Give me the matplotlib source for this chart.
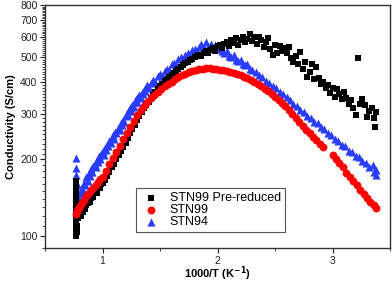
import matplotlib
matplotlib.use("Agg")
import matplotlib.pyplot as plt
from matplotlib.ticker import FixedLocator, FixedFormatter, MultipleLocator, NullFormatter

plt.rcParams['font.family'] = ['Liberation Sans', 'DejaVu Sans']

# STN99 Pre-reduced (black squares)
black_x = [0.77] * 17 + [0.78] * 5 + [
    0.79, 0.80, 0.81, 0.82, 0.83, 0.84, 0.85, 0.86, 0.87, 0.88, 0.89, 0.90,
    0.91, 0.92, 0.93, 0.94, 0.95, 0.96, 0.97, 0.98, 0.99, 1.00, 1.02, 1.04,
    1.06, 1.08, 1.10, 1.12, 1.14, 1.16, 1.18, 1.20, 1.22, 1.24, 1.26, 1.28,
    1.30, 1.32, 1.34, 1.36, 1.38, 1.40, 1.42, 1.44, 1.46, 1.48, 1.50, 1.52,
    1.54, 1.56, 1.58, 1.60, 1.62, 1.64, 1.66, 1.68, 1.70, 1.72, 1.74, 1.76,
    1.78, 1.80, 1.82, 1.84, 1.86, 1.88, 1.90, 1.92, 1.94, 1.96, 1.98, 2.00,
    2.02, 2.04, 2.06, 2.08, 2.10, 2.12, 2.14, 2.16, 2.18, 2.20, 2.22, 2.24,
    2.26, 2.28, 2.30, 2.32, 2.34, 2.36, 2.38, 2.40, 2.42, 2.44, 2.46, 2.48,
    2.50, 2.52, 2.54, 2.56, 2.58, 2.60, 2.62, 2.64, 2.66, 2.68, 2.70, 2.72,
    2.74, 2.76, 2.78, 2.80, 2.82, 2.84, 2.86, 2.88, 2.90, 2.92, 2.94, 2.96,
    2.98, 3.00, 3.02, 3.04, 3.06, 3.08, 3.10, 3.12, 3.14, 3.16, 3.18, 3.20,
    3.22, 3.24, 3.26, 3.28, 3.30, 3.32, 3.34, 3.36, 3.37, 3.38]
black_y = [100, 102, 104, 107, 110, 113, 116, 119, 122, 126, 130, 135, 140,
           146, 152, 158, 165] + [104, 110, 118, 126, 134] + [
    118, 122, 120, 126, 124, 130, 128, 133, 135, 138, 136, 141,
    144, 142, 147, 150, 148, 154, 156, 155, 160, 162, 166, 172,
    178, 186, 192, 200, 207, 215, 224, 232, 242, 252, 262, 272,
    284, 294, 305, 316, 326, 336, 346, 356, 366, 375, 385, 394,
    404, 412, 420, 428, 436, 444, 452, 460, 467, 474, 480, 487,
    492, 500, 505, 512, 508, 520, 528, 518, 536, 545, 530, 552,
    560, 545, 566, 575, 555, 582, 570, 596, 560, 585, 600, 572,
    590, 615, 580, 598, 562, 600, 585, 548, 576, 595, 540, 510,
    558, 520, 552, 528, 545, 520, 548, 495, 478, 505, 470, 525,
    452, 480, 418, 440, 470, 410, 460, 415, 395, 400, 380, 390,
    362, 380, 350, 375, 360, 345, 365, 348, 330, 340, 318, 298,
    495, 330, 345, 325, 292, 308, 316, 290, 266, 305]

# STN99 (red circles)
red_x = [0.77, 0.78, 0.79, 0.80, 0.82, 0.84, 0.86, 0.88, 0.90, 0.92, 0.94,
         0.96, 0.98, 1.00, 1.03, 1.06, 1.09, 1.12, 1.15, 1.18, 1.21, 1.24,
         1.27, 1.30, 1.33, 1.36, 1.39, 1.42, 1.45, 1.48, 1.51, 1.54, 1.57,
         1.60, 1.63, 1.66, 1.69, 1.72, 1.75, 1.78, 1.81, 1.84, 1.87, 1.90,
         1.93, 1.96, 1.99, 2.02, 2.05, 2.08, 2.11, 2.14, 2.17, 2.20, 2.23,
         2.26, 2.29, 2.32, 2.35, 2.38, 2.41, 2.44, 2.47, 2.50, 2.53, 2.56,
         2.59, 2.62, 2.65, 2.68, 2.71, 2.74, 2.77, 2.80, 2.83, 2.86, 2.89,
         2.92, 3.00, 3.03, 3.06, 3.09, 3.12, 3.15, 3.18, 3.21, 3.24, 3.27,
         3.30, 3.33, 3.36, 3.38]
red_y = [122, 125, 128, 131, 135, 139, 143, 147, 151, 155, 159,
         163, 167, 171, 180, 191, 203, 214, 226, 240, 254, 267,
         282, 297, 312, 324, 335, 346, 356, 366, 376, 385, 394,
         402, 410, 418, 425, 431, 437, 442, 447, 450, 452, 453,
         453, 452, 450, 448, 445, 443, 440, 436, 431, 426, 420,
         414, 407, 400, 393, 385, 377, 368, 359, 349, 340, 331,
         322, 311, 301, 290, 280, 270, 261, 252, 244, 237, 230,
         223, 208, 200, 193, 186, 177, 171, 164, 158, 152, 146,
         141, 136, 132, 129]

# STN94 (blue triangles)
blue_x = [0.77] * 8 + [0.78] * 3 + [
    0.79, 0.80, 0.81, 0.82, 0.83, 0.84, 0.85, 0.86, 0.87, 0.88, 0.89, 0.90,
    0.91, 0.92, 0.93, 0.94, 0.95, 0.96, 0.97, 0.98, 0.99, 1.00, 1.01, 1.02,
    1.03, 1.04, 1.05, 1.06, 1.07, 1.08, 1.09, 1.10, 1.11, 1.12, 1.13, 1.14,
    1.15, 1.16, 1.17, 1.18, 1.19, 1.20, 1.21, 1.22, 1.23, 1.24, 1.25, 1.26,
    1.27, 1.28, 1.29, 1.30, 1.31, 1.32, 1.33, 1.34, 1.35, 1.36, 1.37, 1.38,
    1.39, 1.40, 1.42, 1.44, 1.46, 1.48, 1.50, 1.52, 1.54, 1.56, 1.58, 1.60,
    1.62, 1.64, 1.66, 1.68, 1.70, 1.72, 1.74, 1.76, 1.78, 1.80, 1.82, 1.84,
    1.86, 1.88, 1.90, 1.92, 1.94, 1.96, 1.98, 2.00, 2.02, 2.04, 2.06, 2.08,
    2.10, 2.12, 2.14, 2.16, 2.18, 2.20, 2.22, 2.24, 2.26, 2.28, 2.30, 2.33,
    2.36, 2.39, 2.42, 2.45, 2.48, 2.51, 2.54, 2.57, 2.60, 2.63, 2.66, 2.69,
    2.72, 2.75, 2.78, 2.81, 2.84, 2.87, 2.90, 2.93, 2.96, 2.99, 3.02, 3.05,
    3.08, 3.11, 3.14, 3.17, 3.20, 3.23, 3.26, 3.29, 3.32, 3.35, 3.36, 3.38,
    3.38]
blue_y = [128, 135, 142, 150, 158, 173, 184, 202] + [132, 145, 160] + [
    140, 148, 138, 155, 150, 162, 158, 170, 164, 176, 172, 183,
    178, 188, 192, 186, 198, 195, 205, 200, 210, 215, 208, 222,
    218, 228, 225, 236, 232, 242, 248, 240, 255, 252, 262, 268,
    260, 276, 272, 285, 280, 295, 303, 298, 312, 318, 308, 325,
    321, 336, 344, 334, 349, 356, 346, 364, 360, 374, 369, 382,
    389, 379, 398, 408, 401, 422, 430, 422, 444, 452, 447, 470,
    477, 468, 492, 500, 490, 512, 522, 507, 532, 540, 527, 550,
    562, 542, 572, 550, 565, 545, 558, 538, 548, 528, 520, 530,
    508, 500, 510, 490, 482, 488, 470, 466, 472, 452, 448, 438,
    425, 418, 405, 398, 385, 380, 366, 360, 350, 342, 330, 324,
    312, 306, 296, 290, 280, 276, 268, 262, 252, 248, 240, 236,
    228, 225, 216, 214, 206, 204, 196, 194, 186, 190, 178, 182,
    174]

fig = plt.figure(figsize=(3.92, 2.84), dpi=100)
ax = fig.add_axes([0.115, 0.127, 0.88, 0.855])

ax.scatter(blue_x, blue_y, marker="^", s=34, color="#2a3cff", linewidths=0,
           label="STN94", zorder=1)
ax.scatter(black_x, black_y, marker="s", s=22, color="black", linewidths=0,
           label="STN99 Pre-reduced", zorder=2)
ax.scatter(red_x, red_y, marker="o", s=32, color="#ff0000", linewidths=0,
           label="STN99", zorder=3)

ax.set_yscale("log")
ax.set_xlim(0.5, 3.5)
ax.set_ylim(90, 800)
ax.yaxis.set_major_locator(FixedLocator([100, 200, 300, 400, 500, 600, 700, 800]))
ax.yaxis.set_minor_locator(FixedLocator(list(range(90, 801, 10))))
ax.yaxis.set_major_formatter(FixedFormatter(
    ["100", "200", "300", "400", "500", "600", "700", "800"]))
ax.yaxis.set_minor_formatter(NullFormatter())
ax.xaxis.set_major_locator(FixedLocator([1, 2, 3]))
ax.xaxis.set_minor_locator(MultipleLocator(0.5))

ax.tick_params(which="major", labelsize=7.5, length=3.5, width=0.8,
               direction="out", pad=2, colors="#222222")
ax.tick_params(which="minor", length=2, width=0.6, direction="out",
               colors="#222222")
for sp in ax.spines.values():
    sp.set_linewidth(1.0)
    sp.set_color("#333333")

ax.set_xlabel("1000/T (K$^{\\mathbf{-1}}$)", fontsize=8, fontweight="bold")
ax.xaxis.set_label_coords(0.5, -0.068)
ax.set_ylabel("Conductivity (S/cm)", fontsize=8, fontweight="bold",
              labelpad=3)

handles, labels = ax.get_legend_handles_labels()
order = [1, 2, 0]
leg = ax.legend([handles[i] for i in order], [labels[i] for i in order],
                loc="lower left", bbox_to_anchor=(0.264, 0.066),
                borderaxespad=0, fontsize=9, frameon=True, fancybox=False,
                edgecolor="#555555", framealpha=1, handletextpad=0.6,
                labelspacing=0.0, borderpad=0.3, handlelength=1.8,
                scatterpoints=1)
leg.get_frame().set_linewidth(0.8)

fig.savefig("out.png", dpi=100)
